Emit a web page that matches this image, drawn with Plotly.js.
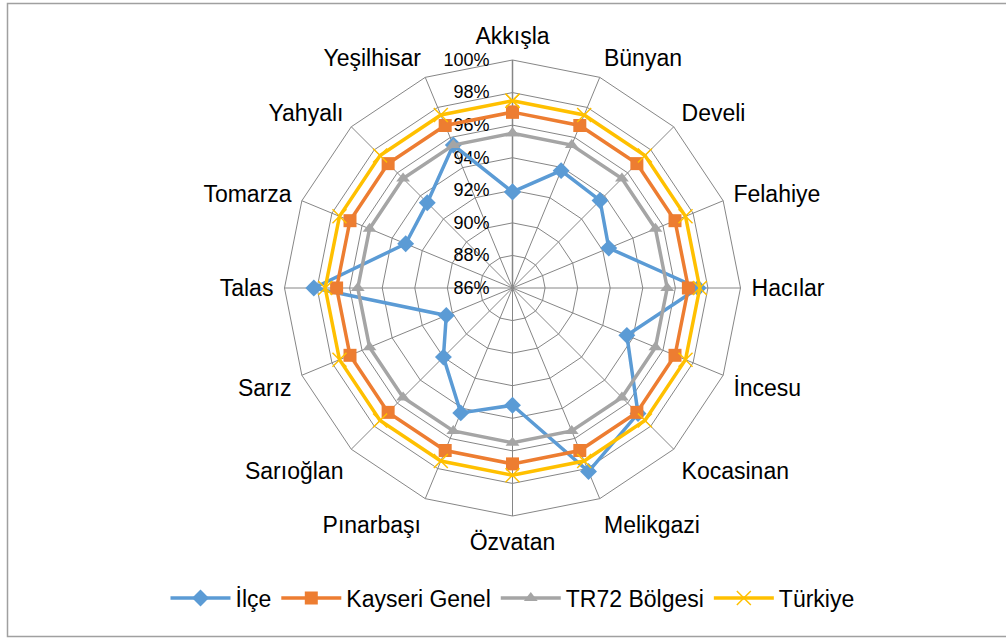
<!DOCTYPE html>
<html>
<head>
<meta charset="utf-8">
<script src="https://cdn.plot.ly/plotly-3.0.1.min.js"></script>
<style>
  html, body { margin: 0; padding: 0; background: #fff; }
  #chart { width: 1006px; height: 639px; }
</style>
</head>
<body>
<div id="chart"></div>
<script>
const categories = ["Akkışla", "Bünyan", "Develi", "Felahiye", "Hacılar", "İncesu", "Kocasinan", "Melikgazi",
                    "Özvatan", "Pınarbaşı", "Sarıoğlan", "Sarız", "Talas", "Tomarza", "Yahyalı", "Yeşilhisar"];
const ilce     = [91.9, 93.8, 93.6, 92.4, 97.4, 93.6, 96.9, 98.2, 93.2, 94.3, 92.0, 90.4, 98.2, 93.1, 93.4, 95.5];
const kayseri  = [96.8, 96.8, 96.8, 96.8, 96.8, 96.8, 96.8, 96.8, 96.8, 96.8, 96.8, 96.8, 96.8, 96.8, 96.8, 96.8];
const tr72     = [95.5, 95.5, 95.5, 95.5, 95.5, 95.5, 95.5, 95.5, 95.5, 95.5, 95.5, 95.5, 95.5, 95.5, 95.5, 95.5];
const turkiye  = [97.5, 97.5, 97.5, 97.5, 97.5, 97.5, 97.5, 97.5, 97.5, 97.5, 97.5, 97.5, 97.5, 97.5, 97.5, 97.5];
const seriesNames = ["İlçe", "Kayseri Genel", "TR72 Bölgesi", "Türkiye"];
const tickValues = [86, 88, 90, 92, 94, 96, 98, 100];
const tickLabels = ["86%", "88%", "90%", "92%", "94%", "96%", "98%", "100%"];

const FONT = "Liberation Sans, Arial, sans-serif";
const closeLoop = a => a.concat([a[0]]);
const theta = closeLoop(categories);

const styles = [
  {color: "#5B9BD5", symbol: "diamond", size: 13, line: {width: 0}},
  {color: "#ED7D31", symbol: "square", size: 13, line: {width: 0}},
  {color: "#A5A5A5", symbol: "triangle-up", size: 12, line: {width: 0}},
  {color: "#FFC000", symbol: "x-thin", size: 14, line: {width: 1.5, color: "#FFC000"}}
];
const values = [ilce, kayseri, tr72, turkiye];

const traces = values.map((v, i) => ({
  type: "scatterpolar",
  mode: "lines+markers",
  name: seriesNames[i],
  r: closeLoop(v),
  theta: theta,
  line: {color: styles[i].color, width: 3.5},
  marker: {symbol: styles[i].symbol, size: styles[i].size, color: styles[i].color, line: styles[i].line},
  cliponaxis: false
}));

const L = 60, R = 41, T = 60, B = 123;
const pw = 1006 - L - R, ph = 639 - T - B;
const px2x = x => (x - L) / pw;
const py2y = y => (639 - B - y) / ph;

const layout = {
  width: 1006, height: 639,
  margin: {l: L, r: R, t: T, b: B, pad: 0},
  paper_bgcolor: "#ffffff",
  plot_bgcolor: "#ffffff",
  font: {family: FONT, color: "#000000"},
  showlegend: true,
  legend: {
    orientation: "h", x: 0.5, xanchor: "center", y: py2y(598), yanchor: "middle",
    font: {family: FONT, size: 23, color: "#000"}, itemwidth: 60, traceorder: "normal"
  },
  polar: {
    bgcolor: "#ffffff",
    gridshape: "linear",
    domain: {x: [0, 1], y: [0, 1]},
    radialaxis: {
      range: [86, 100],
      tickvals: tickValues,
      ticktext: tickLabels,
      angle: 90,
      side: "counterclockwise",
      tickangle: 90,
      showline: true,
      linecolor: "#868686",
      linewidth: 1.5,
      gridcolor: "#868686",
      gridwidth: 1,
      ticks: "outside",
      ticklen: 16,
      tickcolor: "rgba(0,0,0,0)",
      tickfont: {family: FONT, size: 18, color: "#000"},
      layer: "below traces"
    },
    angularaxis: {
      type: "category",
      direction: "clockwise",
      rotation: 90,
      showline: true,
      linecolor: "#868686",
      linewidth: 1,
      gridcolor: "#868686",
      gridwidth: 1,
      ticks: "outside",
      ticklen: 6,
      tickcolor: "rgba(0,0,0,0)",
      tickfont: {family: FONT, size: 23, color: "#000"},
      layer: "below traces"
    }
  },
  shapes: [{
    type: "rect", xref: "paper", yref: "paper",
    x0: px2x(7.5), x1: px2x(1010), y0: py2y(636.5), y1: py2y(3.5),
    line: {color: "#A0A0A0", width: 1.5}, fillcolor: "rgba(0,0,0,0)", layer: "below"
  }]
};

Plotly.newPlot("chart", traces, layout, {displayModeBar: false, staticPlot: true});
</script>
</body>
</html>
